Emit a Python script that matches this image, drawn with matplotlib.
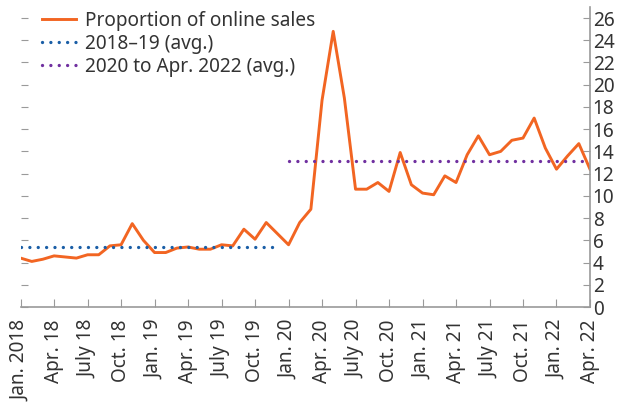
import numpy as np
import matplotlib.pyplot as plt

# Part des ventes en ligne, mensuel, janv. 2018 -> avr. 2022
online_share = [4.4, 4.1, 4.3, 4.6, 4.5, 4.4, 4.7, 4.7, 5.5, 5.6, 7.5, 6.0,
                4.9, 4.9, 5.3, 5.4, 5.2, 5.2, 5.6, 5.5, 7.0, 6.1, 7.6, 6.6,
                5.6, 7.6, 8.8, 18.6, 24.8, 18.8, 10.6, 10.6, 11.2, 10.4, 13.9, 11.0,
                10.25, 10.1, 11.8, 11.2, 13.7, 15.4, 13.7, 14.0, 15.0, 15.2, 17.0, 14.3,
                12.4, 13.6, 14.7, 12.4]
avg_2018_19 = 5.4
avg_2020_22 = 13.1

tick_labels = ["Jan. 2018", "Apr. 18", "July 18", "Oct. 18",
               "Jan. 19", "Apr. 19", "July 19", "Oct. 19",
               "Jan. 20", "Apr. 20", "July 20", "Oct. 20",
               "Jan. 21", "Apr. 21", "July 21", "Oct. 21",
               "Jan. 22", "Apr. 22"]

plt.rcParams['font.family'] = ['Noto Sans', 'DejaVu Sans']
txt = '#333333'
grey = '#9a9a9a'
fs = 13.7

months = np.arange(len(online_share))

fig = plt.figure(figsize=(6.24, 4.07), dpi=100)
ax = fig.add_axes([0.033, 0.2457, 0.9125, 0.7373])

ax.plot(months, online_share, color='#f26522', lw=2.1, label='Proportion of online sales')
ax.plot([0, 23], [avg_2018_19] * 2, color='#1a5ea6', lw=2.4,
        linestyle=(0, (0.01, 2.5)), dash_capstyle='round', label='2018–19 (avg.)')
ax.plot([24, 51], [avg_2020_22] * 2, color='#7030a0', lw=2.4,
        linestyle=(0, (0.01, 2.5)), dash_capstyle='round', label='2020 to Apr. 2022 (avg.)')

ax.set_xlim(0, 51)
ax.set_ylim(0, 27)

ax.set_xticks(np.arange(0, 52, 3))
ax.set_xticklabels(tick_labels, rotation=90, fontsize=fs, color=txt)
ax.set_yticks(np.arange(0, 27, 2))
ax.yaxis.tick_right()
ax.tick_params(axis='y', which='both', left=True, right=True, labelleft=False,
               labelright=True, direction='in', length=5, color=grey,
               labelsize=fs, labelcolor=txt, pad=2)
ax.tick_params(axis='x', direction='in', length=6, color=grey, pad=9)

for side in ['top', 'left']:
    ax.spines[side].set_visible(False)
for side in ['bottom', 'right']:
    ax.spines[side].set_color(grey)
    ax.spines[side].set_linewidth(1.2)

ax.legend(loc='upper left', bbox_to_anchor=(0.0248, 1.012), frameon=False,
          fontsize=fs, labelcolor=txt, handlelength=1.75, handletextpad=0.5,
          labelspacing=0.15, borderaxespad=0.0, borderpad=0.4)

fig.savefig('out.png', dpi=100)
